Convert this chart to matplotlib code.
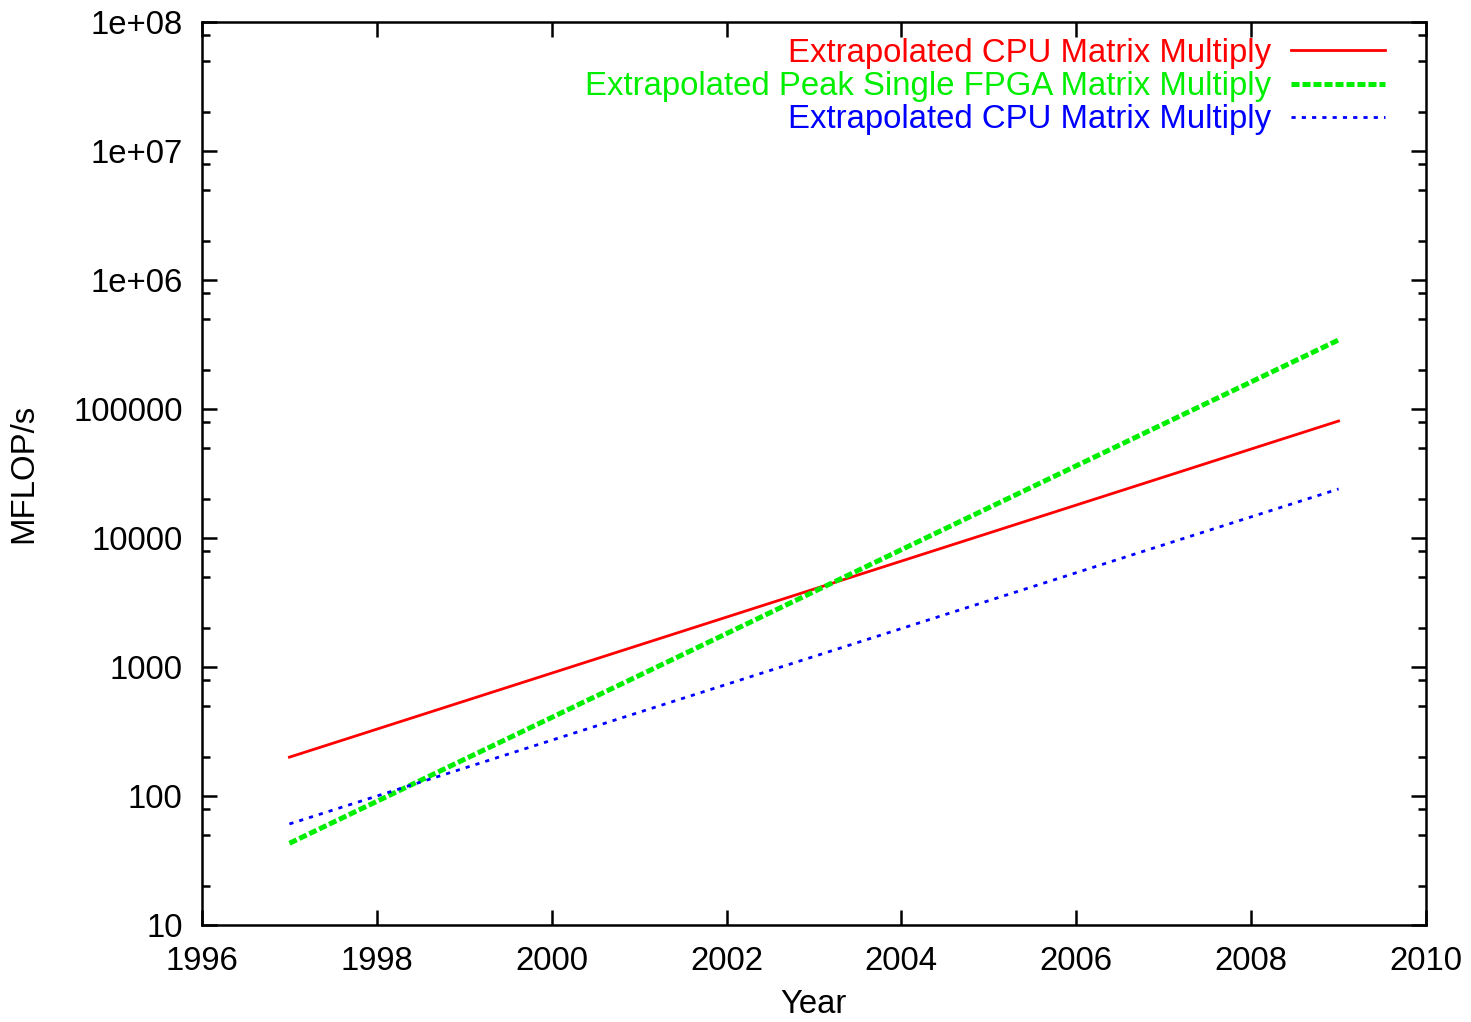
import matplotlib
matplotlib.use('Agg')
import matplotlib.pyplot as plt
from matplotlib.ticker import LogLocator, FixedLocator, NullLocator

plt.rcParams['font.family'] = ['Liberation Sans', 'DejaVu Sans']

years = [1997, 2009]
cpu_mm = [200, 80700]
fpga_peak_mm = [43, 343000]
cpu_mm_2 = [60.7, 24000]

labels = ['Extrapolated CPU Matrix Multiply',
          'Extrapolated Peak Single FPGA Matrix Multiply',
          'Extrapolated CPU Matrix Multiply']
year_ticks = [1996, 1998, 2000, 2002, 2004, 2006, 2008, 2010]
y_ticks = [10, 100, 1000, 10000, 100000, 1e6, 1e7, 1e8]
y_ticklabels = ['10', '100', '1000', '10000', '100000', '1e+06', '1e+07', '1e+08']

fs = 23.7

fig = plt.figure(figsize=(14.71, 10.22), dpi=100)
ax = fig.add_axes([202 / 1471, 97 / 1022, 1224 / 1471, 903 / 1022])

ax.plot(years, cpu_mm, color='#ff0000', lw=2.0, label=labels[0])
ax.plot(years, fpga_peak_mm, color='#00ee00', lw=3.6, dashes=(1.6, 0.6), label=labels[1])
ax.plot(years, cpu_mm_2, color='#0000ff', lw=2.0, dashes=(1.5, 2.2), label=labels[2])

ax.set_yscale('log')
ax.set_xlim(1996, 2010)
ax.set_ylim(10, 1e8)
ax.xaxis.set_major_locator(FixedLocator(year_ticks))
ax.xaxis.set_minor_locator(NullLocator())
ax.set_xticklabels([str(y) for y in year_ticks])
ax.yaxis.set_major_locator(FixedLocator(y_ticks))
ax.set_yticklabels(y_ticklabels)
ax.yaxis.set_minor_locator(LogLocator(base=10, subs=(2, 5, 8)))
ax.yaxis.set_minor_formatter(plt.NullFormatter())

ax.tick_params(which='both', direction='in', top=True, right=True,
               labelsize=fs, width=1.8, colors='black')
ax.tick_params(axis='y', which='both', pad=14)
ax.tick_params(axis='x', which='both', pad=15)
ax.tick_params(which='major', length=11)
ax.tick_params(which='minor', length=5.5)
for s in ax.spines.values():
    s.set_linewidth(1.8)

ax.set_xlabel('Year', fontsize=fs, labelpad=9)
ax.set_ylabel('MFLOP/s', fontsize=fs, labelpad=24)

leg = ax.legend(loc='upper right', frameon=False, markerfirst=False,
                fontsize=fs, handlelength=2.85, handletextpad=0.6,
                labelspacing=0.07, borderaxespad=0.3, labelcolor='linecolor',
                bbox_to_anchor=(0.985, 1.008))

fig.savefig('out.png', dpi=100)
